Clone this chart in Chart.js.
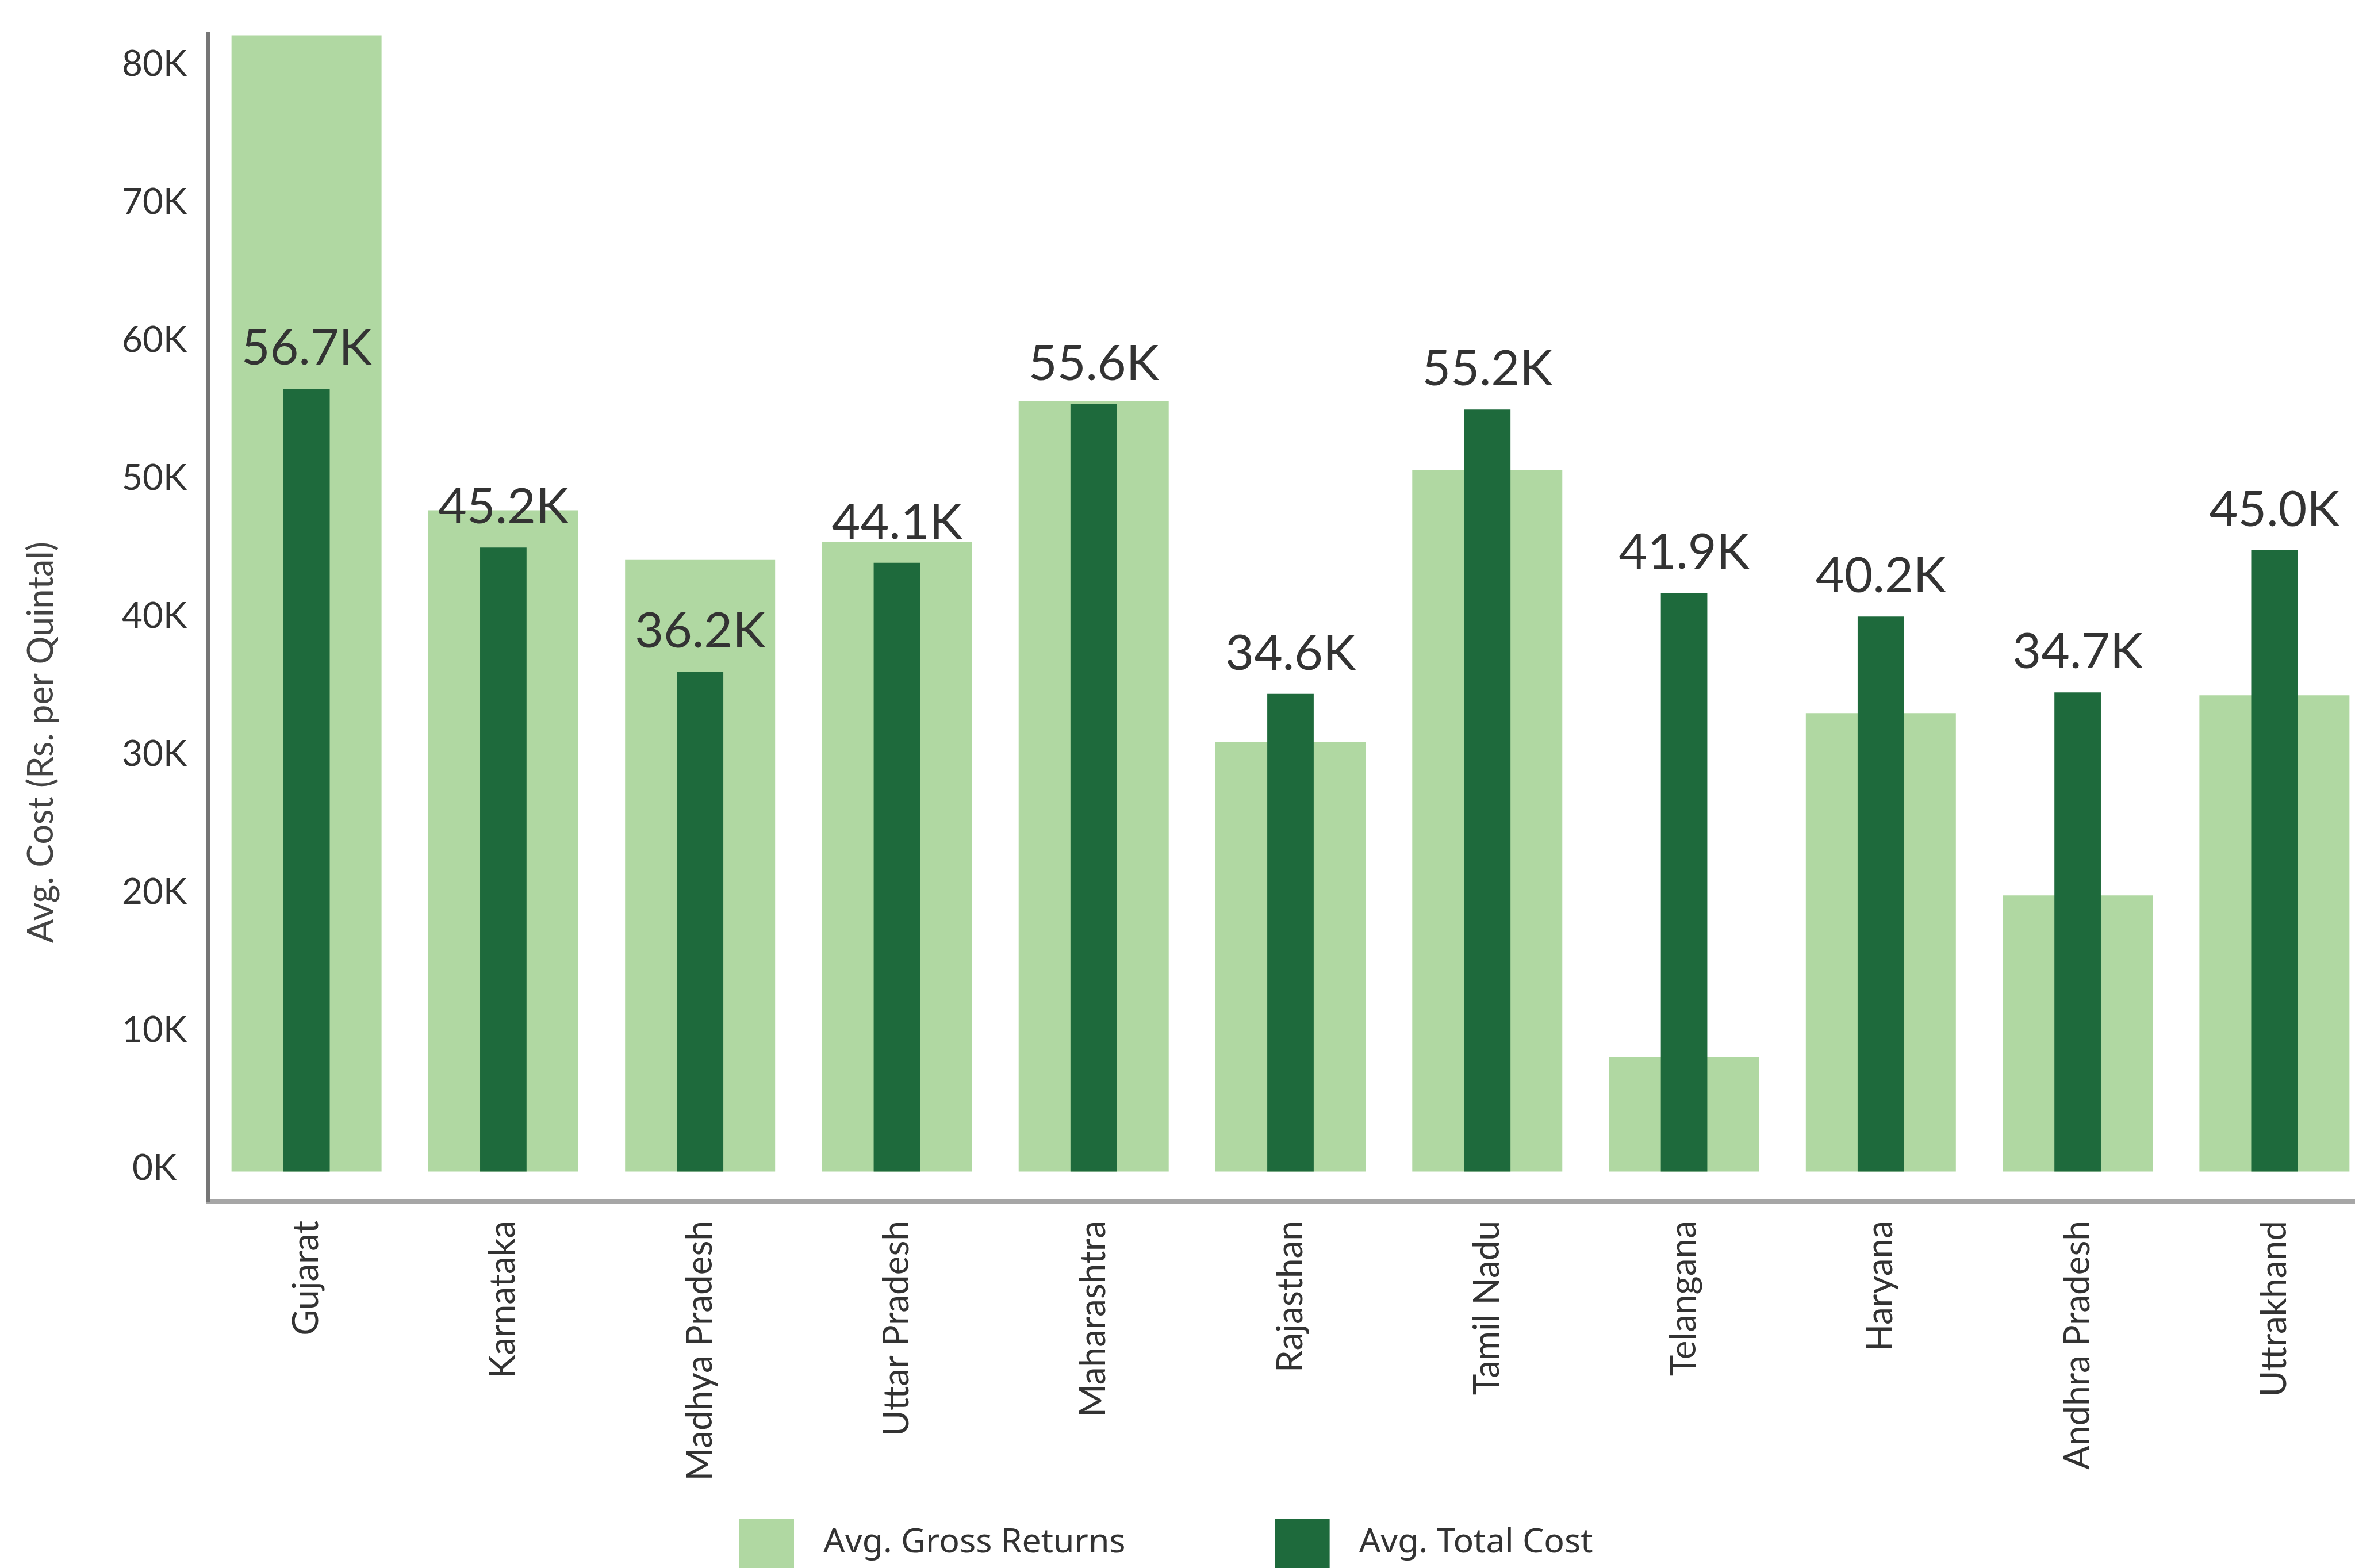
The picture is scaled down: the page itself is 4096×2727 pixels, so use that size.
<!DOCTYPE html>
<html>
<head>
<meta charset="utf-8">
<title>Avg. Gross Returns vs Avg. Total Cost</title>
<script src="https://cdn.jsdelivr.net/npm/chart.js@4.4.1/dist/chart.umd.min.js"></script>
<style>
  html, body { margin: 0; padding: 0; background: #fff; overflow: hidden; }
  /* a little wider than the window: the last category slot runs past the right edge */
  #wrap { width: 4127px; height: 2727px; position: relative; }
</style>
</head>
<body>
<div id="wrap"><canvas id="myChart"></canvas></div>
<script>
// Datas
const states = ["Gujarat", "Karnataka", "Madhya Pradesh", "Uttar Pradesh", "Maharashtra", "Rajasthan", "Tamil Nadu", "Telangana", "Haryana", "Andhra Pradesh", "Uttrakhand"];
const grossReturns = [82300, 47900, 44300, 45600, 55800, 31100, 50800, 8300, 33200, 20000, 34500];
const totalCost = [56700, 45200, 36200, 44100, 55600, 34600, 55200, 41900, 40200, 34700, 45000];
const yTicks = [0, 10000, 20000, 30000, 40000, 50000, 60000, 70000, 80000];
const yTitle = 'Avg. Cost (Rs. per Quintal)';

const lightGreen = '#b0d8a2';
const darkGreen = '#1e6a3c';

// value labels above the cost bars
const costLabels = {
    id: 'costLabels',
    afterDatasetsDraw(chart) {
        const ctx = chart.ctx;
        const meta = chart.getDatasetMeta(1);
        ctx.save();
        ctx.font = '86px Lato';
        ctx.fillStyle = '#333';
        ctx.textAlign = 'center';
        ctx.textBaseline = 'alphabetic';
        meta.data.forEach((bar, i) => {
            ctx.fillText((totalCost[i] / 1000).toFixed(1) + 'K', bar.x, bar.y - 42);
        });
        ctx.restore();
    }
};

// y title + legend at the bottom
const extras = {
    id: 'extras',
    afterDraw(chart) {
        const ctx = chart.ctx;
        ctx.save();
        ctx.translate(72, 1291);
        ctx.rotate(-Math.PI / 2);
        ctx.font = '61px Lato';
        ctx.fillStyle = '#444';
        ctx.textAlign = 'center';
        ctx.textBaseline = 'middle';
        ctx.fillText(yTitle, 0, 0);
        ctx.restore();

        ctx.save();
        ctx.font = '59px "Noto Sans"';
        ctx.textBaseline = 'middle';
        let x = 1286;
        chart.data.datasets.forEach(ds => {
            ctx.fillStyle = ds.backgroundColor;
            ctx.fillRect(x, 2641, 95, 86);
            ctx.fillStyle = '#333';
            ctx.fillText(ds.label, x + 146, 2683);
            x += 146 + ctx.measureText(ds.label).width + 260;
        });
        ctx.restore();
    }
};

// the chart
const myChart = new Chart('myChart', {
    type: 'bar',
    data: {
        labels: states,
        datasets: [{
            label: 'Avg. Gross Returns',
            data: grossReturns,
            backgroundColor: lightGreen,
            borderWidth: 0,
            barPercentage: 0.7625,
            categoryPercentage: 1,
            grouped: false,
            order: 1
        },
        {
            label: 'Avg. Total Cost',
            data: totalCost,
            backgroundColor: darkGreen,
            borderWidth: 0,
            barPercentage: 0.236,
            categoryPercentage: 1,
            grouped: false,
            order: 0
        }]
    },
    options: {
        responsive: true,
        maintainAspectRatio: false,
        animation: false,
        layout: { padding: { top: 58, right: 0, bottom: 0, left: 0 } },
        plugins: {
            legend: { display: false },
            tooltip: { enabled: false }
        },
        scales: {
            x: {
                offset: true,
                grid: { display: false, drawTicks: false },
                border: { display: true, color: '#a6a6a6', width: 9 },
                ticks: {
                    autoSkip: false,
                    minRotation: 90,
                    maxRotation: 90,
                    padding: 34,
                    color: '#333',
                    font: { family: 'Lato', size: 62 }
                },
                afterFit(scale) { scale.height = 638; }
            },
            y: {
                min: -2150,
                max: 82450,
                grid: { display: false, drawTicks: false },
                border: { display: true, color: '#767676', width: 6 },
                ticks: {
                    padding: 37,
                    crossAlign: 'center',
                    labelOffset: -5,
                    color: '#333',
                    font: { family: 'Lato', size: 62 },
                    callback: v => (v / 1000) + 'K'
                },
                afterBuildTicks(scale) { scale.ticks = yTicks.map(v => ({ value: v })); },
                afterFit(scale) {
                    scale.width = 362;
                    scale.paddingTop = 0;
                    scale.paddingBottom = 0;
                }
            }
        }
    },
    plugins: [costLabels, extras]
});
</script>
</body>
</html>
